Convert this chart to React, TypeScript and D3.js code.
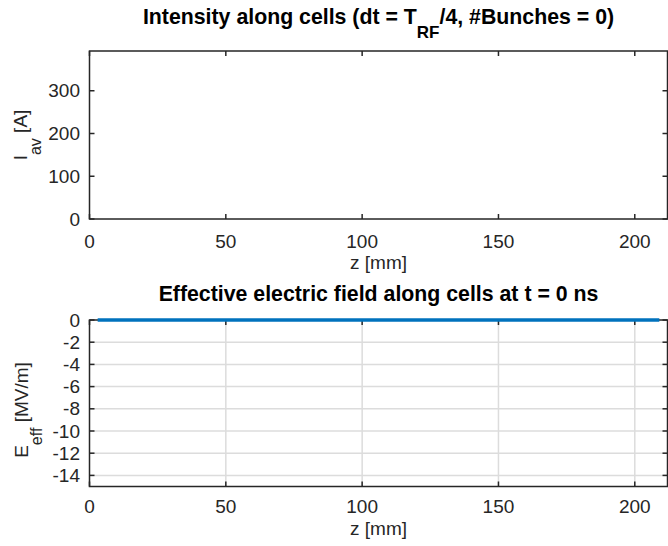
import React from "react";
import * as d3 from "d3";

// Beam intensity per cell (no bunches injected yet, so nothing to draw)
const intensityZ: number[] = [];
const intensityI: number[] = [];

// Effective electric field along the cells at t = 0 ns
const fieldZ = [3, 209];
const fieldE = [0, 0];

const zTicks = [0, 50, 100, 150, 200];
const iTicks = [0, 100, 200, 300];
const eTicks = [0, -2, -4, -6, -8, -10, -12, -14];

const W = 668;
const H = 546;
const FONT = "'Liberation Sans', Arial, Helvetica, sans-serif";
const AX = "#262626";
const TICK_FS = 19;
const TITLE_FS = 21.3;
const SUB_FS = 16;

export default function App() {
  const x = d3.scaleLinear().domain([0, 212]).range([89.5, 667.5]);
  const yI = d3.scaleLinear().domain([0, 393]).range([219, 51]);
  const yE = d3.scaleLinear().domain([-15, 0]).range([486.5, 320]);

  const lineI = d3
    .line<number>()
    .x((_, i) => x(intensityZ[i]))
    .y((d) => yI(d));
  const lineE = d3
    .line<number>()
    .x((_, i) => x(fieldZ[i]))
    .y((d) => yE(d));

  const [x0, x1] = x.range();
  const tickLen = 5;

  return (
    <svg
      width={W}
      height={H}
      style={{ position: "absolute", left: 0, top: 0, background: "#fff" }}
      fontFamily={FONT}
    >
      {/* ---------- top panel: intensity ---------- */}
      <text x={378.5} y={23.5} fontSize={TITLE_FS} fontWeight="bold" textAnchor="middle" fill="#000">
        Intensity along cells (dt = T
        <tspan dy={14.5} fontSize={SUB_FS + 1}>RF</tspan>
        <tspan dy={-14.5}>/4, #Bunches = 0)</tspan>
      </text>
      <path d={lineI(intensityI) || ""} fill="none" stroke="#0072BD" strokeWidth={3} />
      <g stroke={AX} strokeWidth={1.5}>
        {zTicks.map((t) => (
          <g key={"ti" + t}>
            <line x1={x(t)} x2={x(t)} y1={yI(0)} y2={yI(0) - tickLen} />
            <line x1={x(t)} x2={x(t)} y1={yI.range()[1]} y2={yI.range()[1] + tickLen} />
          </g>
        ))}
        {iTicks.map((t) => (
          <g key={"yi" + t}>
            <line x1={x0} x2={x0 + tickLen} y1={yI(t)} y2={yI(t)} />
            <line x1={x1} x2={x1 - tickLen} y1={yI(t)} y2={yI(t)} />
          </g>
        ))}
        <rect x={x0} y={yI.range()[1]} width={x1 - x0} height={yI(0) - yI.range()[1]} fill="none" />
      </g>
      <g fontSize={TICK_FS} fill={AX}>
        {zTicks.map((t) => (
          <text key={"lti" + t} x={x(t)} y={248} textAnchor="middle">
            {t}
          </text>
        ))}
        {iTicks.map((t) => (
          <text key={"lyi" + t} x={80} y={yI(t) + 6.5} textAnchor="end">
            {t}
          </text>
        ))}
        <text x={378.5} y={269} textAnchor="middle">
          z [mm]
        </text>
        <text transform="translate(27,135) rotate(-90)" textAnchor="middle">
          I<tspan dy={14} fontSize={SUB_FS}>av</tspan>
          <tspan dy={-14}> [A]</tspan>
        </text>
      </g>

      {/* ---------- bottom panel: effective field ---------- */}
      <text x={378.5} y={300.5} fontSize={TITLE_FS} fontWeight="bold" textAnchor="middle" fill="#000">
        Effective electric field along cells at t = 0 ns
      </text>
      <g stroke="#dcdcdc" strokeWidth={1.5}>
        {zTicks.slice(1).map((t) => (
          <line key={"gx" + t} x1={x(t)} x2={x(t)} y1={yE(0)} y2={yE(-15)} />
        ))}
        {eTicks.slice(1).map((t) => (
          <line key={"gy" + t} x1={x0} x2={x1} y1={yE(t)} y2={yE(t)} />
        ))}
      </g>
      <g stroke={AX} strokeWidth={1.5}>
        {zTicks.map((t) => (
          <g key={"te" + t}>
            <line x1={x(t)} x2={x(t)} y1={yE(-15)} y2={yE(-15) - tickLen} />
            <line x1={x(t)} x2={x(t)} y1={yE(0)} y2={yE(0) + tickLen} />
          </g>
        ))}
        {eTicks.map((t) => (
          <g key={"ye" + t}>
            <line x1={x0} x2={x0 + tickLen} y1={yE(t)} y2={yE(t)} />
            <line x1={x1} x2={x1 - tickLen} y1={yE(t)} y2={yE(t)} />
          </g>
        ))}
        <rect x={x0} y={yE(0)} width={x1 - x0} height={yE(-15) - yE(0)} fill="none" />
      </g>
      <path d={lineE(fieldE) || ""} fill="none" stroke="#0072BD" strokeWidth={3.5} />
      <g fontSize={TICK_FS} fill={AX}>
        {zTicks.map((t) => (
          <text key={"lte" + t} x={x(t)} y={513} textAnchor="middle">
            {t}
          </text>
        ))}
        {eTicks.map((t) => (
          <text key={"lye" + t} x={80} y={yE(t) + 6.5} textAnchor="end">
            {t}
          </text>
        ))}
        <text x={378.5} y={535} textAnchor="middle">
          z [mm]
        </text>
        <text transform="translate(28,410) rotate(-90)" textAnchor="middle">
          E<tspan dy={14} fontSize={SUB_FS}>eff</tspan>
          <tspan dy={-14}> [MV/m]</tspan>
        </text>
      </g>
    </svg>
  );
}
